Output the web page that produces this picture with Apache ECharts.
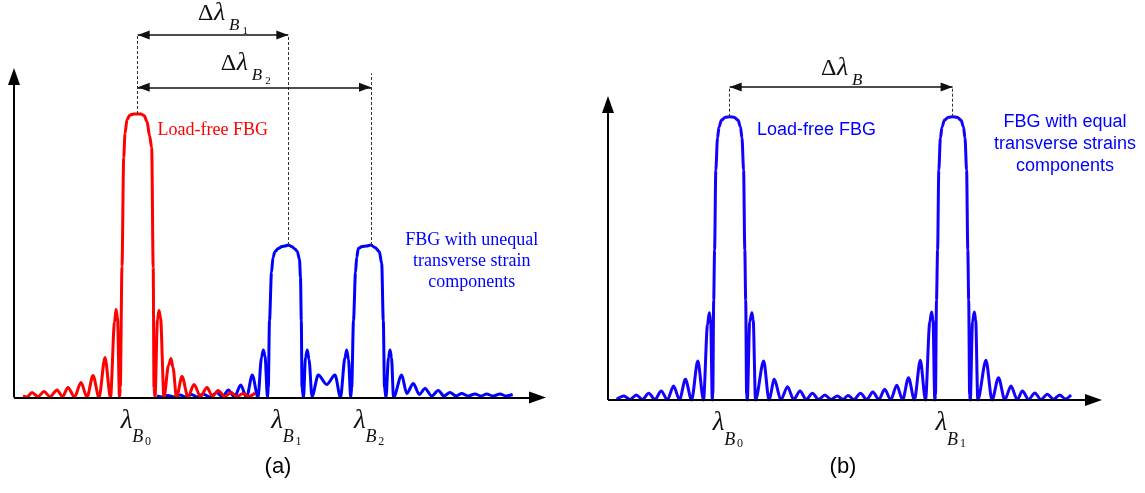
<!DOCTYPE html>
<html><head><meta charset="utf-8">
<script src="https://cdn.jsdelivr.net/npm/echarts@6/dist/echarts.min.js"></script>
<style>html,body{margin:0;padding:0;background:#fff}#c{width:1145px;height:493px}</style>
</head><body><div id="c"></div>
<script>
// ---------- DATA (x: wavelength, a.u. ; y: reflected intensity, a.u.) ----------
const redSpectrumA = [
[9,1.5],[13,0.5],[18,5],[24,0.8],[30,6],[36,0.8],[43,7.5],[48.5,0.8],[54,10],[60.5,0.5],[67,15],[73,0.3],[79,22],[85,0],[91,40],[96.5,0],[100.5,75],[102,88],[103.5,80],[105.5,0],
[106.3,10],[108,131],[109.7,240],[111,264],[113,278],[116,282.5],[120,283.5],[123.7,283.5],[127,283.5],[130,282],[133,276],[135.5,262],[137.7,250],[139.2,130],[140,10],[141,0],
[143.5,78],[145,87],[146.5,80],[150,0],[154.5,32],[157,39],[159,30],[162.5,0],[168,21],[174,0.5],[180,13],[186.5,1],[193,10],[198.5,1],[204,7],[211,1],[217,5],[223,1],[229,4],[235,1],[241,4.5]
];
const blueSpectrumA = [
[143,1.5],[148,0.5],[154,2],[160,0.5],[166,2.5],[172,0.5],[177.7,3],[183,0.5],[189,3.5],[196,0.5],[202.7,5],[208.5,0.5],[214.3,7.5],[220.5,0.3],[226.7,12.5],[232.5,0],[238.3,22.5],[244,0],[247.5,40],[249.3,47.5],[251,42],[253.5,0],
[254.3,10],[255.5,77],[257.5,125],[259,140],[261,146],[264.3,149],[268,151],[271,151.5],[274.3,152.5],[277.7,151],[281,148.5],[283.3,146],[285.5,138],[286.5,120],[287.3,77],[288,10],[289.5,0],
[291.5,40],[293.3,47.5],[295,38],[298,1],[304.3,22.5],[312.7,13],[321,22.5],[326.5,0],[331,40],[332.7,47.5],[334.5,38],[336.7,0],
[337.7,10],[339.5,77],[341.5,125],[342.7,140],[344.3,149],[348,151],[352.7,151.5],[357,152.5],[361,150],[365.3,146],[367.7,134],[369.3,77],[370.5,10],[372,0],
[374.5,40],[376,47.5],[377.5,40],[379.5,0],[387.7,22.5],[392.7,4],[399.3,14],[405.3,3],[411,9],[417.7,1.5],[424.3,7],[430,1.5],[436,5],[442,1.5],[447.7,4],[454,1.5],[461,3.5],[467,1.5],[472.7,3.5],[479,1.5],[486,3.5],[492,1.5],[498.7,3]
];
const blueSpectrumB = [
[8.7,0.7],[15.8,4],[22,0.5],[28.3,5],[34.5,0.5],[40.7,6.7],[47,0.5],[53.2,9],[59.4,0.3],[65.6,14],[71.5,0.2],[77.4,20.7],[83.6,0],[89.8,39],[95.5,0],[99.5,75],[101.2,87.3],[102.7,80],[104.3,0],
[104.8,5],[105.7,100],[106.6,150],[107.8,230],[109.5,262],[111,273],[113.5,280],[117.5,282.8],[121.7,283.3],[126,282.8],[130,280],[132.5,273],[134,262],[135.6,230],[136.8,150],[137.7,100],[138.6,5],[139.3,0],
[141.7,78],[143.9,87.3],[145.2,80],[147.5,0],[155.7,39],[161,0],[166.3,20.7],[172.9,0.2],[179.5,13.3],[185.7,0.4],[192,9],[198.2,0.5],[204.4,6.7],[210.6,0.5],[216.9,5],[223,0.5],[229.3,4],[235,0.5],[240,4.5],[246,0.5],[252.5,6.7],[258.7,0.5],[264.9,8],[270.8,0.4],[276.7,10.7],[282.7,0.3],[288.8,14.7],[294.6,0.2],[300.5,22.3],[306.4,0],[312.3,39.7],[317.5,0],[321.8,78],[323.6,88],[325,80],[326.8,0],
[327.5,5],[328.5,100],[329.6,150],[330.8,230],[332.4,262],[334,273],[336.5,280],[340.5,282.8],[344.6,283.3],[349,282.8],[353,280],[355.5,273],[357,262],[358.6,230],[359.8,150],[360.7,100],[361.6,5],[362.3,0],
[364.5,78],[366.3,88],[367.7,80],[369.8,0],[378,39.7],[384,0],[390.5,22.3],[396.8,0.2],[403,14],[409.2,0.3],[414.4,9],[420.6,0.5],[426.8,7],[433,0.5],[439.3,5.7],[445.5,0.8],[451.7,5],[457.5,1],[463,5]
];
const peakCentersA = [123.7, 274.3, 357];   // λB0, λB1, λB2
const peakTopsA    = [283.5, 152.5, 152.5];
const peakCentersB = [121.7, 344.6];        // λB0, λB1
const peakTopsB    = [283.3, 283.3];
const peakLabelsA  = [['λ','B','0'],['λ','B','1'],['λ','B','2']];
const peakLabelsB  = [['λ','B','0'],['λ','B','1']];
const shiftLabelsA = [['Δ','λ','B','1'],['Δ','λ','B','2']];
const shiftLabelB  = ['Δ','λ','B',''];
const shiftLevelsA = [362.5, 310.2];   // heights of the Δλ arrows (a)
const shiftLevelB  = 313;              // height of the Δλ arrow (b)
const captions     = ['(a)','(b)'];
const notesA = ['Load-free FBG', 'FBG with unequal\ntransverse strain\ncomponents'];
const notesB = ['Load-free FBG', 'FBG with equal\ntransverse strains\ncomponents'];

// ---------- LAYOUT / STYLE ----------
const L = {
  A: {left:14, base:397.5, xMax:532, yTip:329.5},
  B: {left:608, base:400, xMax:494, yTip:304}
};
const SERIF = '"Liberation Serif","Times New Roman",serif';
const SANS = '"Liberation Sans",Arial,sans-serif';
const RED = '#ff0000', BLUE = '#0000ff', BLUE_B = '#1400ff';

const chart = echarts.init(document.getElementById('c'), null, {renderer:'canvas'});

function markSeries(g, ml) {
  return {type:'line', xAxisIndex:g, yAxisIndex:g, data:[], silent:true, clip:false, z:1,
    markLine: Object.assign({silent:true, animation:false, symbol:['none','none'], label:{show:false}, emphasis:{disabled:true}}, ml)};
}
function curve(g, data, color) {
  return {type:'line', xAxisIndex:g, yAxisIndex:g, data, showSymbol:false, smooth:0.3, smoothMonotone:'x',
    clip:false, silent:true, z:3, lineStyle:{color, width:3}, itemStyle:{color}};
}
// arrow heads: [x, y (tip), direction in degrees]
function heads(g, data, len, wid, color) {
  return {type:'custom', xAxisIndex:g, yAxisIndex:g, silent:true, clip:false, z:4, data,
    renderItem:(params, api) => {
      const t = api.coord([api.value(0), api.value(1)]);
      const a = api.value(2) * Math.PI / 180;
      const dx = Math.cos(a), dy = -Math.sin(a);
      const bx = t[0] - dx * len, by = t[1] - dy * len;
      const nx = -dy * wid / 2, ny = dx * wid / 2;
      return {type:'polygon', shape:{points:[[t[0], t[1]], [bx + nx, by + ny], [bx - nx, by - ny]]},
        style:{fill:color, stroke:null}};
    }};
}
const axisML = (g, P) => markSeries(g, {
  lineStyle:{color:'#000', width:2, type:'solid'},
  data:[[{coord:[0,0]},{coord:[0,P.yTip - 4]}],[{coord:[0,0]},{coord:[P.xMax - 4,0]}]]
});
const dashML = (g, segs) => markSeries(g, {
  lineStyle:{color:'#333', width:1, type:[3,2]},
  data: segs.map(s => [{coord:s[0]},{coord:s[1]}])
});
const arrowML = (g, segs) => markSeries(g, {
  lineStyle:{color:'#111', width:1.5, type:'solid'},
  data: segs.map(s => [{coord:s[0]},{coord:s[1]}])
});

const option = {
  animation:false,
  backgroundColor:'#fff',
  grid:[
    {left:L.A.left, top:0, width:L.A.xMax, height:L.A.base},
    {left:L.B.left, top:0, width:L.B.xMax, height:L.B.base}
  ],
  xAxis:[
    {gridIndex:0, type:'value', min:0, max:L.A.xMax, show:false},
    {gridIndex:1, type:'value', min:0, max:L.B.xMax, show:false}
  ],
  yAxis:[
    {gridIndex:0, type:'value', min:0, max:L.A.base, show:false},
    {gridIndex:1, type:'value', min:0, max:L.B.base, show:false}
  ],
  series:[
    axisML(0, L.A), axisML(1, L.B),
    heads(0, [[0, L.A.yTip, 90], [L.A.xMax, 0, 0]], 17, 12, '#000'),
    heads(1, [[0, L.B.yTip, 90], [L.B.xMax, 0, 0]], 17, 12, '#000'),
    dashML(0, [
      [[peakCentersA[0], peakTopsA[0]], [peakCentersA[0], shiftLevelsA[0]]],
      [[peakCentersA[1], peakTopsA[1]], [peakCentersA[1], shiftLevelsA[0]]],
      [[peakCentersA[2], peakTopsA[2]], [peakCentersA[2], shiftLevelsA[1] + 14]]
    ]),
    dashML(1, [
      [[peakCentersB[0], peakTopsB[0]], [peakCentersB[0], shiftLevelB]],
      [[peakCentersB[1], peakTopsB[1]], [peakCentersB[1], shiftLevelB]]
    ]),
    arrowML(0, [
      [[peakCentersA[0], shiftLevelsA[0]], [peakCentersA[1], shiftLevelsA[0]]],
      [[peakCentersA[0], shiftLevelsA[1]], [peakCentersA[2], shiftLevelsA[1]]]
    ]),
    arrowML(1, [
      [[peakCentersB[0], shiftLevelB], [peakCentersB[1], shiftLevelB]]
    ]),
    heads(0, [
      [peakCentersA[0], shiftLevelsA[0], 180], [peakCentersA[1], shiftLevelsA[0], 0],
      [peakCentersA[0], shiftLevelsA[1], 180], [peakCentersA[2], shiftLevelsA[1], 0]
    ], 12, 9, '#111'),
    heads(1, [
      [peakCentersB[0], shiftLevelB, 180], [peakCentersB[1], shiftLevelB, 0]
    ], 12, 9, '#111'),
    curve(0, blueSpectrumA, BLUE),
    curve(0, redSpectrumA, RED),
    curve(1, blueSpectrumB, BLUE_B)
  ]
};
chart.setOption(option);

// ---------- TEXT ANNOTATIONS (anchored to data coordinates) ----------
const px = (g, x, y) => chart.convertToPixel({gridIndex:g}, [x, y]);
const els = [];
function txt(x, y, text, o) {
  els.push({type:'text', x, y, silent:true, z:100, style:Object.assign({
    text, fill:'#000', fontFamily:SERIF, fontSize:18, fontStyle:'normal',
    textAlign:'left', textVerticalAlign:'top'}, o)});
}
// peak labels: λ_{B_n}
const PEAK_PIECES = [
  {size:27, italic:true, dx:-17, dy:9.5},
  {size:18, italic:true, dx:-5.5, dy:31},
  {size:12, italic:false, dx:7.3, dy:38.2}
];
function peakLabel(g, xc, parts) {
  const p = px(g, xc, 0);
  parts.forEach((t, k) => {
    const s = PEAK_PIECES[k];
    txt(p[0] + s.dx, p[1] + s.dy, t, {fontSize:s.size, fontStyle:s.italic ? 'italic' : 'normal', fill:'#111'});
  });
}
peakCentersA.forEach((c, i) => peakLabel(0, c, peakLabelsA[i]));
peakCentersB.forEach((c, i) => peakLabel(1, c, peakLabelsB[i]));

// shift labels: Δλ_{B_n}
const SHIFT_PIECES = [
  {size:24, italic:false, dx:0, dy:0},
  {size:26, italic:true, dx:16, dy:-1.5},
  {size:17, italic:true, dx:31, dy:15.5},
  {size:11, italic:false, dx:44.5, dy:24.5}
];
function shiftLabel(g, x0, level, off, parts) {
  const p = px(g, x0, level);
  parts.forEach((t, k) => {
    if (!t) return;
    const s = SHIFT_PIECES[k];
    txt(p[0] + off[0] + s.dx, p[1] + off[1] + s.dy, t, {fontSize:s.size, fontStyle:s.italic ? 'italic' : 'normal', fill:'#111'});
  });
}
shiftLabel(0, peakCentersA[0], shiftLevelsA[0], [60.3, -33.5], shiftLabelsA[0]);
shiftLabel(0, peakCentersA[0], shiftLevelsA[1], [83, -35.8], shiftLabelsA[1]);
shiftLabel(1, peakCentersB[0], shiftLevelB, [91.3, -30.5], shiftLabelB);

// notes
let p = px(0, peakCentersA[0], peakTopsA[0]);
txt(p[0] + 19.8, p[1] + 16, notesA[0], {fill:RED, fontFamily:SERIF, fontSize:18, textVerticalAlign:'middle'});
p = px(0, peakCentersA[2], peakTopsA[2]);
txt(p[0] + 100.7, p[1] + 16, notesA[1], {fill:BLUE, fontFamily:SERIF, fontSize:18, textAlign:'center', textVerticalAlign:'middle', lineHeight:21});
p = px(1, peakCentersB[0], peakTopsB[0]);
txt(p[0] + 27.3, p[1] + 13.3, notesB[0], {fill:BLUE, fontFamily:SANS, fontSize:18, textVerticalAlign:'middle'});
p = px(1, peakCentersB[1], peakTopsB[1]);
txt(p[0] + 112.4, p[1] + 27.8, notesB[1], {fill:BLUE, fontFamily:SANS, fontSize:18, textAlign:'center', textVerticalAlign:'middle', lineHeight:22});

// captions
p = px(0, 264, 0);
txt(p[0], p[1] + 69.5, captions[0], {fontFamily:SANS, fontSize:22, textAlign:'center', textVerticalAlign:'middle'});
p = px(1, 235, 0);
txt(p[0], p[1] + 67, captions[1], {fontFamily:SANS, fontSize:22, textAlign:'center', textVerticalAlign:'middle'});

chart.setOption({graphic:{elements:els}});
</script>
</body></html>
